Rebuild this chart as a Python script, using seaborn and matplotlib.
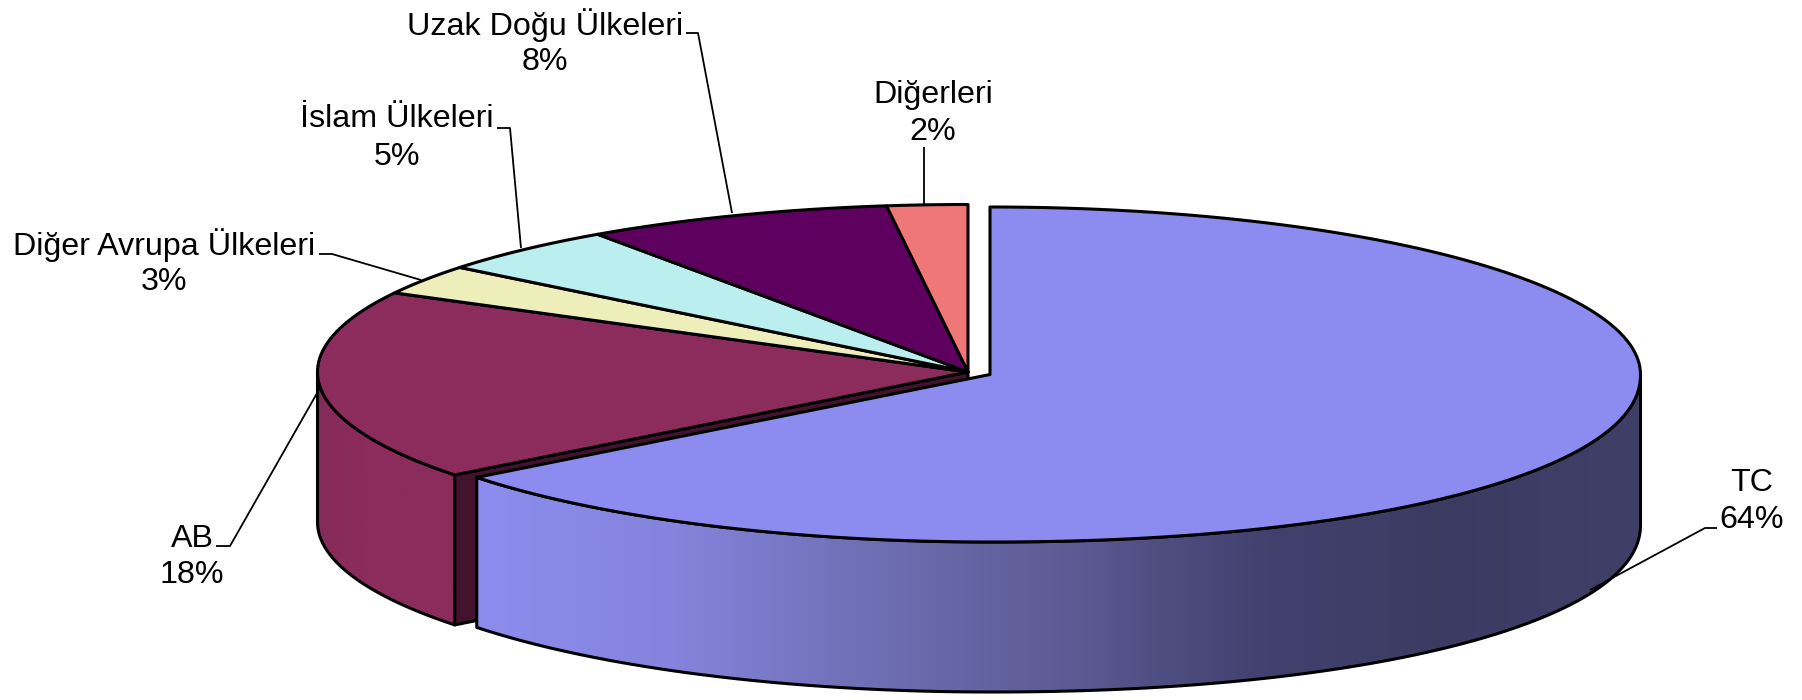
#plot.py - exploded 3d style pie, drawn on a pixel sized axes
import numpy as np
import seaborn as sns
import matplotlib
matplotlib.use('Agg')
import matplotlib.pyplot as plt
from matplotlib.patches import Polygon

# data
names = ['TC', 'AB', 'Diğer Avrupa Ülkeleri', 'İslam Ülkeleri', 'Uzak Doğu Ülkeleri', 'Diğerleri']
shares = [64.47, 18.36, 2.90, 4.63, 7.64, 2.00]
slice_colors = ['#8c8cf0', '#8b2c5c', '#eeeebb', '#bbeeee', '#5e005e', '#f07777']

# label centre x, first line y, second line y
label_x = [1752, 192, 164, 397, 545, 933]
label_y1 = [483, 539, 245, 119, 25, 95]
label_y2 = [520, 575, 282, 157, 62, 132]

# leader lines, label end first
leader_x = [[1717, 1705, 1590], [216, 230, 320], [319, 332, 421], [497, 510, 521], [686, 698, 732], [924, 924]]
leader_y = [[528, 528, 590], [546, 546, 388], [254, 254, 280], [128, 128, 248], [33, 33, 213], [147, 204]]

# pie geometry in pixels
CX_MAIN, CY_MAIN = 990, 374.5
CX_REST, CY_REST = 968, 372
RX, RY = 650.5, 167.5
DEPTH = 150

sns.set_theme(style='white')
plt.rcParams['font.family'] = ['Liberation Sans', 'DejaVu Sans']

fig = plt.figure(figsize=(18.02, 7), dpi=100)
ax = fig.add_axes([0, 0, 1, 1])
ax.axis('off')

EDGE = dict(edgecolor='black', linewidth=2.2, joinstyle='round')


def rim(cx, cy, a0, a1, drop=0):
    # points along the rim, angles in degrees (squashed circle)
    # the lower right quarter bulges a little in the original
    t = np.radians(np.linspace(a0, a1, 240))
    c, s = np.cos(t), np.sin(t)
    fat = (c > 0) & (s < 0)
    c[fat] = c[fat] ** (2 / 2.1)
    s[fat] = -((-s[fat]) ** (2 / 2.1))
    return np.column_stack([cx + RX * c, cy - RY * s + drop])


def wall(cx, cy, a0, a1, stops, z):
    # outer side of a slice, shaded from left to right with an image
    top = rim(cx, cy, a0, a1)
    bottom = rim(cx, cy, a0, a1, DEPTH)
    pts = np.vstack([top, bottom[::-1]])
    left, right = pts[:, 0].min(), pts[:, 0].max()
    ramp = np.array(sns.blend_palette(stops, 400))[None, :, :]
    patch = Polygon(pts, closed=True, facecolor='none', zorder=z + 0.5, **EDGE)
    ax.add_patch(patch)
    im = ax.imshow(ramp, extent=[left, right, pts[:, 1].max(), pts[:, 1].min()], aspect='auto', zorder=z)
    im.set_clip_path(patch)


# slice boundaries, clockwise from 12 o'clock
cum = np.concatenate([[0], np.cumsum(shares)])
ang0 = 90 - 3.6 * cum[:-1]
ang1 = 90 - 3.6 * cum[1:]

# AB outer wall and its cut face
wall(CX_REST, CY_REST, 180, ang0[1] + 360, ['#852b59', '#8b2c5c', '#8b2c5c', '#8b2c5c'], 1)
t_ab = np.radians(ang0[1])
ab_x = CX_REST + RX * np.cos(t_ab)
ab_y = CY_REST - RY * np.sin(t_ab)
ax.add_patch(Polygon([[ab_x, ab_y], [CX_REST, CY_REST], [CX_REST, CY_REST + DEPTH], [ab_x, ab_y + DEPTH]],
                     closed=True, facecolor='#43132e', zorder=2, **EDGE))

# top faces of the small slices
for i in range(1, len(shares)):
    arc = rim(CX_REST, CY_REST, ang0[i], ang1[i])
    ax.add_patch(Polygon(np.vstack([[CX_REST, CY_REST], arc]), closed=True,
                         facecolor=slice_colors[i], zorder=3, **EDGE))

# TC wall and top
wall(CX_MAIN, CY_MAIN, ang1[0], 0, ['#8c8cee', '#8484dd', '#6f6fb5', '#5d5c96', '#434270', '#3b3b62', '#403f68'], 4)
arc = rim(CX_MAIN, CY_MAIN, ang0[0], ang1[0])
ax.add_patch(Polygon(np.vstack([[CX_MAIN, CY_MAIN], arc]), closed=True,
                     facecolor=slice_colors[0], zorder=5, **EDGE))

# leaders and labels
for i, name in enumerate(names):
    ax.plot(leader_x[i], leader_y[i], color='black', lw=1.3, zorder=6, solid_capstyle='butt')
    ax.text(label_x[i], label_y1[i], name, ha='center', va='center', fontsize=23.2, color='black', zorder=7)
    ax.text(label_x[i], label_y2[i], '%d%%' % round(shares[i]), ha='center', va='center',
            fontsize=23.2, color='black', zorder=7)

ax.set_xlim(0, 1802)
ax.set_ylim(700, 0)
fig.savefig('out.png', dpi=100, facecolor='white')
